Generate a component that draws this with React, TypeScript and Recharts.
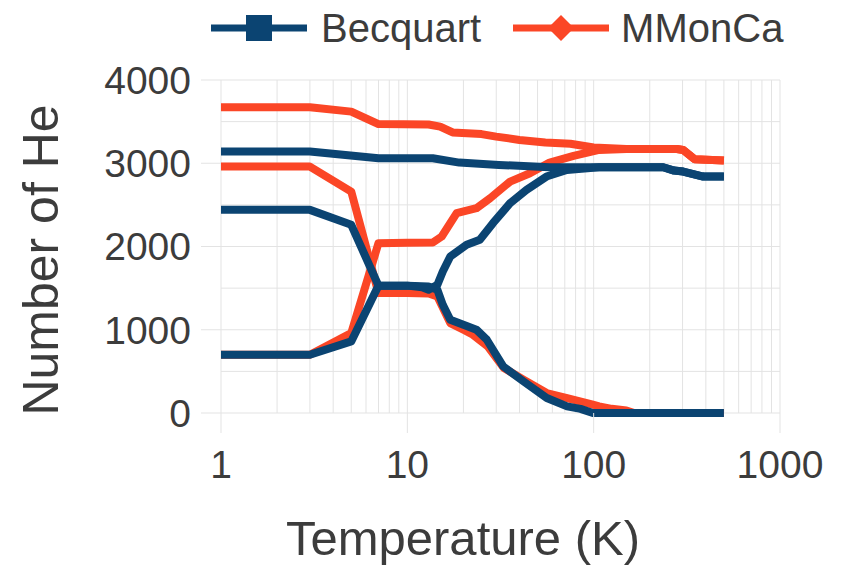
import React from 'react';
import { LineChart, Line, XAxis, YAxis, CartesianGrid, Label } from 'recharts';

const BLUE = '#0b4472';
const RED = '#fb4626';
const GRID = '#e3e3e3';
const TEXT = '#3c3c3c';
const FONT = '"Liberation Sans", Arial, sans-serif';

// axis ticks
const xTicks = [1, 10, 100, 1000];
const xMinor = [2, 3, 4, 5, 6, 7, 8, 9, 20, 30, 40, 50, 60, 70, 80, 90, 200, 300, 400, 500, 600, 700, 800, 900];
const yTicks = [0, 1000, 2000, 3000, 4000];
const yMinor = [500, 1500, 2500, 3500];

// Becquart (T in K, number of He)
const becqTopT = [1, 3, 7, 13.7, 19, 31, 58, 107, 236, 270, 302, 387, 500];
const becqTopV = [3140, 3140, 3060, 3060, 3008, 2980, 2952, 2952, 2952, 2912, 2900, 2840, 2840];
const becqFallT = [1, 3, 5, 7, 10, 13, 14.5, 15.5, 17, 20, 23.5, 26.7, 32.7, 42, 56, 72, 85, 99, 500];
const becqFallV = [2440, 2440, 2260, 1530, 1530, 1520, 1480, 1300, 1120, 1060, 1000, 880, 560, 380, 180, 80, 50, 0, 0];
const becqRiseT = [1, 3, 5, 7, 10, 12, 13, 14.5, 15.5, 17, 20.8, 24.5, 28.8, 35.6, 43.6, 55.8, 71.8, 107, 236, 270, 302, 387, 500];
const becqRiseV = [700, 700, 860, 1530, 1530, 1510, 1480, 1540, 1700, 1880, 2020, 2080, 2280, 2520, 2680, 2840, 2920, 2952, 2952, 2912, 2900, 2840, 2840];

// MMonCa
const mmonTopT = [1, 3, 5, 7, 13, 15, 17.5, 25, 30, 40, 55, 75, 100, 150, 280, 302, 349, 500];
const mmonTopV = [3672, 3672, 3620, 3470, 3465, 3440, 3370, 3350, 3320, 3280, 3250, 3235, 3190, 3172, 3172, 3160, 3048, 3032];
const mmonFallT = [1, 3, 5, 7, 10, 13, 14.5, 17, 20, 22.5, 27, 33, 42, 56, 72, 99, 107, 125, 150, 165, 500];
const mmonFallV = [2960, 2960, 2660, 1440, 1440, 1435, 1400, 1080, 1000, 940, 800, 540, 400, 240, 180, 100, 80, 50, 30, 0, 0];
const mmonRiseT = [1, 3, 5, 7, 10, 13.7, 15.3, 18.4, 23.5, 27.8, 35.6, 45.5, 58, 78, 107, 150, 280, 302, 349, 500];
const mmonRiseV = [700, 700, 960, 2040, 2045, 2048, 2120, 2400, 2460, 2580, 2780, 2880, 3008, 3088, 3160, 3172, 3172, 3160, 3048, 3032];

const zip = (t: number[], v: number[]) => t.map((x, i) => ({ t: x, v: v[i] }));

const series = [
  { key: 'mmonTop', color: RED, data: zip(mmonTopT, mmonTopV) },
  { key: 'mmonFall', color: RED, data: zip(mmonFallT, mmonFallV) },
  { key: 'mmonRise', color: RED, data: zip(mmonRiseT, mmonRiseV) },
  { key: 'becqTop', color: BLUE, data: zip(becqTopT, becqTopV) },
  { key: 'becqRise', color: BLUE, data: zip(becqRiseT, becqRiseV) },
  { key: 'becqFall', color: BLUE, data: zip(becqFallT, becqFallV) },
];

// grid lines at the major and minor ticks, placed through the axis scales
const vGen = ({ xAxis, offset }: any) => {
  const all = [...xTicks, ...xMinor];
  if (xAxis && typeof xAxis.scale === 'function') return all.map((v) => xAxis.scale(v));
  return all.map((v) => offset.left + (Math.log10(v) / 3) * offset.width);
};

const hGen = ({ yAxis, offset }: any) => {
  const all = [...yTicks, ...yMinor];
  if (yAxis && typeof yAxis.scale === 'function') return all.map((v) => yAxis.scale(v));
  return all.map((v) => offset.top + (1 - v / 4000) * offset.height);
};

const LegendRow = () => (
  <div
    style={{
      position: 'absolute',
      top: 8,
      left: 211,
      display: 'flex',
      alignItems: 'center',
      fontFamily: FONT,
      fontSize: 40,
      lineHeight: '40px',
      color: TEXT,
      whiteSpace: 'nowrap',
    }}
  >
    <svg width={96} height={40}>
      <line x1={0} y1={20} x2={96} y2={20} stroke={BLUE} strokeWidth={7} />
      <rect x={35} y={7} width={26} height={26} fill={BLUE} />
    </svg>
    <span style={{ marginLeft: 14 }}>Becquart</span>
    <svg width={96} height={40} style={{ marginLeft: 32 }}>
      <line x1={0} y1={20} x2={96} y2={20} stroke={RED} strokeWidth={7} />
      <polygon points="48,7 61,20 48,33 35,20" fill={RED} />
    </svg>
    <span style={{ marginLeft: 12 }}>MMonCa</span>
  </div>
);

export default function App() {
  return (
    <div style={{ position: 'absolute', left: 0, top: 0, width: 845, height: 567, background: '#fff' }}>
      <LegendRow />
      <LineChart width={845} height={567} margin={{ top: 80, right: 65, bottom: 54, left: 0 }}>
        <CartesianGrid stroke={GRID} verticalCoordinatesGenerator={vGen} horizontalCoordinatesGenerator={hGen} />
        <XAxis
          dataKey="t"
          type="number"
          scale="log"
          domain={[1, 1000]}
          ticks={xTicks}
          height={100}
          tickSize={20}
          tickMargin={17}
          axisLine={false}
          tickLine={{ stroke: GRID }}
          tick={{ fill: TEXT, fontSize: 39, fontFamily: FONT }}
        >
          <Label
            content={() => (
              <text x={463} y={555} textAnchor="middle" fill={TEXT} fontSize={49} fontFamily={FONT}>
                Temperature (K)
              </text>
            )}
          />
        </XAxis>
        <YAxis
          type="number"
          domain={[0, 4000]}
          ticks={yTicks}
          width={221}
          tickSize={20}
          tickMargin={10}
          axisLine={false}
          tickLine={{ stroke: GRID }}
          tick={{ fill: TEXT, fontSize: 39, fontFamily: FONT }}
        >
          <Label
            content={() => (
              <text
                x={58}
                y={260}
                transform="rotate(-90 58 260)"
                textAnchor="middle"
                fill={TEXT}
                fontSize={50}
                fontFamily={FONT}
              >
                Number of He
              </text>
            )}
          />
        </YAxis>
        {series.map((s) => (
          <Line
            key={s.key}
            data={s.data}
            dataKey="v"
            type="linear"
            stroke={s.color}
            strokeWidth={8}
            strokeLinejoin="round"
            dot={false}
            activeDot={false}
            isAnimationActive={false}
          />
        ))}
      </LineChart>
    </div>
  );
}
